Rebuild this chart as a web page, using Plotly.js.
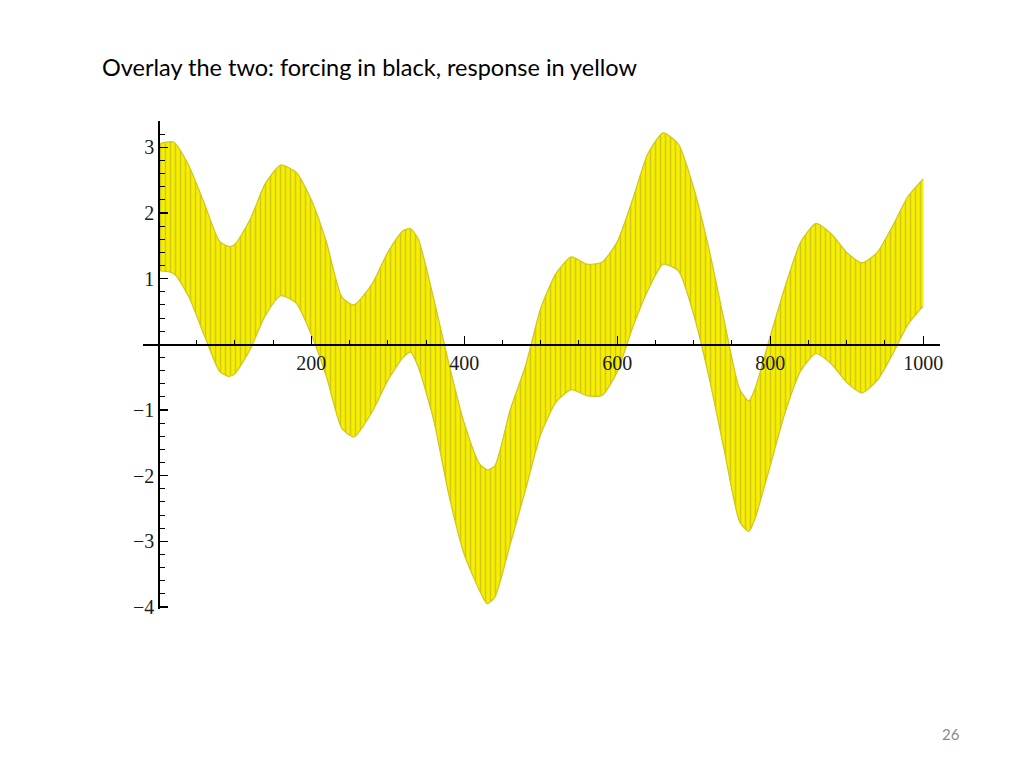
<!DOCTYPE html>
<html>
<head>
<meta charset="utf-8">
<script src="https://cdn.plot.ly/plotly-3.0.1.min.js"></script>
<style>
  html, body { margin: 0; padding: 0; background: #ffffff; }
  #chart { width: 1024px; height: 768px; }
</style>
</head>
<body>
<div id="chart"></div>
<script>
const timeX = [0, 20, 40, 60, 80, 92, 100, 120, 140, 160, 180, 200, 220, 240, 256, 280, 300, 320, 330, 340, 360, 380, 400, 420, 430, 440, 460, 480, 500, 520, 540, 560, 580, 600, 620, 640, 660, 680, 700, 720, 740, 760, 772, 780, 800, 820, 840, 860, 880, 900, 920, 940, 960, 980, 1000];
// Upper envelope of the response (yellow) oscillation
const responseUpper = [3.05, 3.08, 2.72, 2.15, 1.57, 1.49, 1.52, 1.90, 2.45, 2.73, 2.62, 2.20, 1.55, 0.72, 0.60, 0.93, 1.40, 1.73, 1.76, 1.60, 0.70, -0.30, -1.20, -1.82, -1.91, -1.85, -1.00, -0.33, 0.55, 1.08, 1.33, 1.22, 1.25, 1.56, 2.20, 2.90, 3.22, 3.05, 2.38, 1.45, 0.35, -0.68, -0.86, -0.68, 0.12, 0.90, 1.56, 1.84, 1.68, 1.40, 1.24, 1.40, 1.80, 2.25, 2.52];
// Lower envelope of the response (yellow) oscillation
const responseLower = [1.12, 1.08, 0.72, 0.14, -0.41, -0.49, -0.45, -0.08, 0.44, 0.74, 0.63, 0.15, -0.50, -1.28, -1.41, -1.02, -0.55, -0.20, -0.12, -0.35, -1.15, -2.30, -3.20, -3.75, -3.95, -3.85, -3.05, -2.22, -1.37, -0.88, -0.69, -0.78, -0.78, -0.42, 0.25, 0.82, 1.22, 1.12, 0.45, -0.50, -1.62, -2.70, -2.85, -2.66, -1.85, -1.02, -0.40, -0.14, -0.30, -0.58, -0.74, -0.55, -0.15, 0.30, 0.58];
// Tick labels
const xTickVals = [200, 400, 600, 800, 1000];
const yTickVals = [-4, -3, -2, -1, 1, 2, 3];

const bandEdge = '#d0c61c';
const traces = [
  {
    x: timeX, y: responseLower, type: 'scatter', mode: 'lines',
    line: { color: bandEdge, width: 1.2, shape: 'spline', smoothing: 0.6 },
    hoverinfo: 'skip', showlegend: false
  },
  {
    x: timeX, y: responseUpper, type: 'scatter', mode: 'lines',
    line: { color: bandEdge, width: 1.2, shape: 'spline', smoothing: 0.6 },
    fill: 'tonexty',
    fillcolor: '#f3ec00',
    fillpattern: { shape: '|', bgcolor: '#f6ef00', fgcolor: '#d2c81a', size: 5, solidity: 0.3 },
    hoverinfo: 'skip', showlegend: false
  }
];

const tickFont = { family: '"Liberation Serif", "Times New Roman", serif', size: 20, color: '#1a1a1a' };

const layout = {
  width: 1024, height: 768,
  paper_bgcolor: '#ffffff', plot_bgcolor: '#ffffff',
  margin: { l: 143, r: 84, t: 121, b: 159 },
  showlegend: false,
  xaxis: {
    range: [-20, 1022], anchor: 'free', position: 4.03 / 7.43,
    showline: true, linecolor: '#000000', linewidth: 1.3,
    showgrid: false, zeroline: false,
    tickmode: 'array', tickvals: xTickVals, ticktext: xTickVals.map(String),
    ticks: 'inside', ticklen: 8, tickwidth: 1.3, tickcolor: '#000000',
    minor: { tickmode: 'array', tickvals: [50, 100, 150, 250, 300, 350, 450, 500, 550, 650, 700, 750, 850, 900, 950], ticks: 'inside', ticklen: 4, tickwidth: 1, tickcolor: '#000000' },
    tickfont: tickFont, fixedrange: true
  },
  yaxis: {
    range: [-4.03, 3.4], anchor: 'free', position: 20 / 1042,
    showline: true, linecolor: '#000000', linewidth: 1.3,
    showgrid: false, zeroline: false,
    tickmode: 'array', tickvals: yTickVals, ticktext: yTickVals.map(v => (v < 0 ? '\u2212' + Math.abs(v) : String(v))),
    ticks: 'inside', ticklen: 8, tickwidth: 1.3, tickcolor: '#000000',
    minor: { tickmode: 'linear', tick0: 0, dtick: 0.2, ticks: 'inside', ticklen: 5, tickwidth: 1, tickcolor: '#000000' },
    tickfont: tickFont, fixedrange: true
  },
  annotations: [
    {
      text: 'Overlay the two: forcing in black, response in yellow',
      xref: 'paper', yref: 'paper', x: (100 - 143) / 797, y: 1 + (121 - 67) / 488,
      xanchor: 'left', yanchor: 'middle', showarrow: false,
      font: { family: 'Lato, Carlito, Calibri, sans-serif', size: 23.5, color: '#000000' }
    },
    {
      text: '26',
      xref: 'paper', yref: 'paper', x: (962 - 143) / 797, y: -(734 - 609) / 488,
      xanchor: 'right', yanchor: 'middle', showarrow: false,
      font: { family: 'Lato, Carlito, Calibri, sans-serif', size: 15, color: '#8a8a8a' }
    }
  ]
};

Plotly.newPlot('chart', traces, layout, { staticPlot: true, displayModeBar: false });
</script>
</body>
</html>
